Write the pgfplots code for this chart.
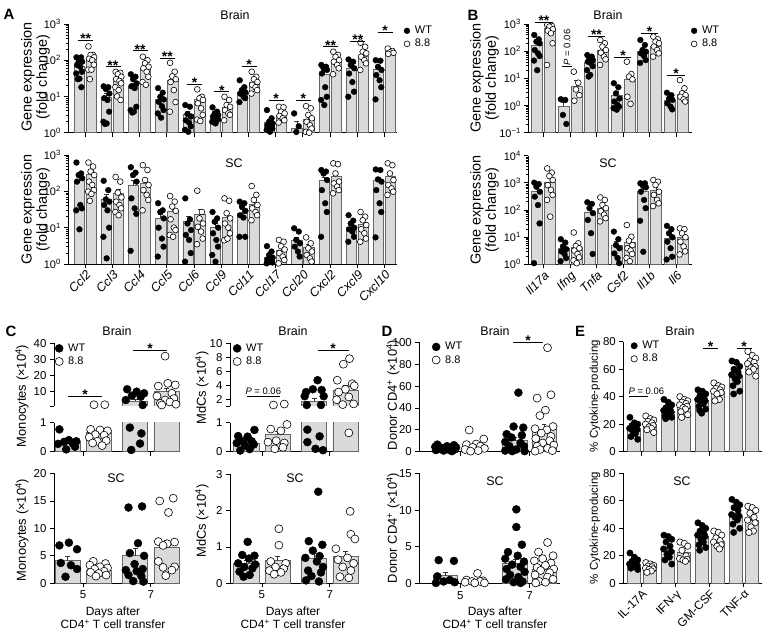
\documentclass[border=0pt]{standalone}
\usepackage{fontspec}
\setmainfont{Liberation Sans}
\usepackage{pgfplots}
\pgfplotsset{compat=1.18}
\definecolor{barf}{HTML}{DADADA}
\definecolor{bard}{HTML}{666666}
\newcommand{\tl}{\fontsize{11.5}{12.5}\selectfont}
\tikzset{sgn/.style={font=\fontsize{14}{14}\selectfont\bfseries, anchor=base, inner sep=0pt, yshift=-3.3bp},
  pv/.style={font=\fontsize{9.5}{10}\selectfont, inner sep=0pt, anchor=base, yshift=2bp},
  ttl/.style={font=\fontsize{12.5}{14}\selectfont},
  yl/.style={rotate=90, align=center, font=\fontsize{#1}{15.5}\selectfont},
  plet/.style={font=\fontsize{15}{15}\selectfont\bfseries}}
\newcommand{\sg}[5]{\draw[line width=.6bp] (axis cs:#1,#4) -- (axis cs:#2,#4); \node[sgn] at (axis cs:#3,#4) {#5};}
\pgfplotsset{
  pan/.style={scale only axis, anchor=south west,
    axis x line*=bottom, axis y line*=left,
    axis line style={line width=.9bp,-},
    tick style={black,line width=.8bp},
    tick align=outside, major tick length=4bp, minor tick length=2.2bp,
    tick label style={font=\tl},
    /pgf/number format/assume math mode=true,
    clip mode=individual,
    legend cell align=left,
    legend style={draw=none, fill=none, anchor=north west, inner sep=0pt,
      font=\fontsize{11}{12}\selectfont, row sep=2bp, nodes={inner sep=1bp},
      /tikz/every odd column/.append style={column sep=4bp}}},
  brw/.style={ybar, bar width=#1, bar shift=0pt, fill=barf, draw=bard, line width=.7bp, forget plot,
    error bars/y dir=plus, error bars/y explicit,
    error bars/error bar style={line width=.7bp, black!80},
    error bars/error mark options={rotate=90, mark size=2.4bp, line width=.7bp, black!80}},
  wt/.style={only marks, mark=*, mark size=#1, mark options={fill=black, draw=black, line width=.4bp}},
  ko/.style={only marks, mark=*, mark size=#1, mark options={fill=white, draw=black, line width=.6bp}},
  abfont/.style={yticklabel style={font=\fontsize{11}{12}\selectfont}},
  rotit/.style={xticklabel style={rotate=45, anchor=north east, inner sep=1bp, font=\fontsize{12.5}{13}\selectfont\itshape}},
}
\begin{document}
\begin{tikzpicture}
\useasboundingbox (0,0) rectangle (764bp,644bp);

% ---------------- A brain
\begin{axis}[pan, abfont, at={(68.3bp,511.3bp)}, width=328.7bp, height=108.7bp,
  ymode=log, log origin y=infty, ymin=1, ymax=1000,
  ytick={1,10,100,1000}, yticklabels={10\textsuperscript{0},10\textsuperscript{1},10\textsuperscript{2},10\textsuperscript{3}},
  minor ytick={2,...,9,20,30,...,90,200,300,...,900},
  xmin=-0.62, xmax=11.46, xtick={0,...,11}, xticklabels={},
  legend style={at={(1.021,0.99)}}]
\addplot[brw=0.38] coordinates {(-0.22,66)+-(0,12) (0.78,9.4)+-(0,2.5) (1.78,19)+-(0,4.5) (2.78,8.3)+-(0,1.5) (3.78,3.2)+-(0,0.6) (4.78,2.8)+-(0,0.35) (5.78,13)+-(0,2.5) (6.78,1.95)+-(0,0.35) (7.78,1.3)+-(0,0.7) (8.78,41)+-(0,10) (9.78,58)+-(0,14) (10.78,57)+-(0,12)};
\addplot[brw=0.38] coordinates {(0.22,105)+-(0,20) (1.22,28)+-(0,4) (2.22,60)+-(0,10) (3.22,28)+-(0,8) (4.22,8.5)+-(0,1.5) (5.22,5)+-(0,0.8) (6.22,24)+-(0,3.5) (7.22,3.1)+-(0,0.4) (8.22,2.4)+-(0,0.5) (9.22,100)+-(0,14) (10.22,130)+-(0,25) (11.22,175)+-(0,12)};
\addplot[wt=2.9bp] table[row sep=\\, x expr=\thisrow{g}-0.22+\thisrow{o}, y=y] {g o y\\
0 -.1 120\\0 .07 120\\0 -.02 91\\0 .11 91\\0 -.08 74\\0 .04 66\\0 .1 48\\0 -.11 43\\0 .01 31\\0 -.05 30\\0 .08 18\\
1 -.1 19\\1 .07 18\\1 -.02 16\\1 .11 12\\1 -.08 9\\1 .04 8\\1 .1 3.8\\1 -.11 2\\1 .01 1.8\\1 -.05 1.75\\
2 -.1 41\\2 .07 35\\2 -.02 30\\2 .11 23\\2 -.08 19\\2 .04 17\\2 .1 5.2\\2 -.11 4.2\\2 .01 3.8\\2 -.05 3.6\\
3 -.1 17\\3 .07 12.7\\3 -.02 9.8\\3 .11 8.3\\3 -.08 7.1\\3 .04 5.4\\3 .1 4.2\\3 -.11 3.4\\3 .01 2.6\\
4 -.1 5.8\\4 .07 5.2\\4 -.02 3.3\\4 .11 2.8\\4 -.08 2.2\\4 .04 1.9\\4 .1 1.5\\4 -.11 1.2\\4 .01 1.06\\
5 -.1 5\\5 .07 3.8\\5 -.02 3.4\\5 .11 3.1\\5 -.08 2.8\\5 .04 2.5\\5 .1 2.3\\5 -.11 2\\5 .01 1.8\\
6 -.1 28\\6 .07 18\\6 -.02 15\\6 .11 13\\6 -.08 12\\6 .04 10\\6 .1 9\\6 -.11 7\\
7 -.1 4.2\\7 .07 2.5\\7 -.02 2\\7 .11 1.8\\7 -.08 1.6\\7 .04 1.45\\7 .1 1.3\\7 -.11 1.2\\7 .01 1.06\\
8 -.1 3.4\\8 .07 1.5\\8 -.02 1.05\\
9 -.1 74\\9 .07 66\\9 -.02 60\\9 .11 54\\9 -.08 43\\9 .04 18\\9 .1 9.8\\9 -.11 8\\9 .01 5.8\\
10 -.1 105\\10 .07 91\\10 -.02 74\\10 .11 60\\10 -.08 43\\10 .04 25\\10 .1 13.5\\10 -.11 9.8\\
11 -.1 100\\11 .07 97\\11 -.02 66\\11 .11 54\\11 -.08 39\\11 .04 28\\11 .1 18\\11 -.11 8.3\\
};
\addplot[ko=2.9bp] table[row sep=\\, x expr=\thisrow{g}+0.22+\thisrow{o}, y=y] {g o y\\
0 -.1 240\\0 .07 140\\0 -.02 140\\0 .11 120\\0 -.08 110\\0 .04 100\\0 .1 75\\0 -.11 55\\0 .01 55\\0 -.05 30\\
1 -.1 48\\1 .07 45\\1 -.02 41\\1 .11 35\\1 -.08 30\\1 .04 27\\1 .1 23\\1 -.11 18\\1 .01 15\\1 -.05 10\\1 .08 8\\
2 -.1 125\\2 .07 100\\2 -.02 82\\2 .11 66\\2 -.08 60\\2 .04 48\\2 .1 35\\2 -.11 25\\2 .01 21\\
3 -.1 85\\3 .07 48\\3 -.02 36\\3 .11 30\\3 -.08 25\\3 .04 15\\3 .1 7\\3 -.11 3.8\\
4 -.1 15.7\\4 .07 9.8\\4 -.02 8.9\\4 .11 8\\4 -.08 6.5\\4 .04 4.7\\4 .1 3.1\\4 -.11 2.3\\4 .01 2.1\\
5 -.1 9.8\\5 .07 8\\5 -.02 5.8\\5 .11 5.2\\5 -.08 4.2\\5 .04 3.4\\5 .1 3.1\\5 -.11 2.2\\
6 -.1 48\\6 .07 35\\6 -.02 30\\6 .11 25\\6 -.08 21\\6 .04 18\\6 .1 15\\6 -.11 12\\
7 -.1 5.2\\7 .07 5\\7 -.02 3.8\\7 .11 3.4\\7 -.08 2.9\\7 .04 2.5\\7 .1 2.2\\7 -.11 1.9\\
8 -.1 5.4\\8 .07 4.7\\8 -.02 3.1\\8 .11 2.5\\8 -.08 2\\8 .04 1.6\\8 .1 1.3\\8 -.11 1.06\\8 .01 1\\
9 -.1 172\\9 .07 140\\9 -.02 125\\9 .11 100\\9 -.08 91\\9 .04 74\\9 .1 60\\9 -.11 41\\
10 -.1 305\\10 .07 235\\10 -.02 172\\10 .11 155\\10 -.08 125\\10 .04 100\\10 .1 82\\10 -.11 54\\
11 -.1 210\\11 .07 180\\11 -.02 165\\11 .11 160\\11 -.08 150\\
};
\legend{WT,8.8}
\sg{-0.25}{0.3}{0.02}{346}{**}
\sg{0.75}{1.3}{1.02}{66}{**}
\sg{1.75}{2.3}{2.02}{183}{**}
\sg{2.75}{3.3}{3.02}{112}{**}
\sg{3.75}{4.3}{4.02}{21.6}{*}
\sg{4.75}{5.3}{5.02}{13.5}{*}
\sg{5.75}{6.3}{6.02}{69}{*}
\sg{6.75}{7.3}{7.02}{8}{*}
\sg{7.75}{8.3}{8.02}{8}{*}
\sg{8.75}{9.3}{9.02}{236}{**}
\sg{9.75}{10.3}{10.02}{325}{**}
\sg{10.75}{11.3}{11.02}{585}{*}
\end{axis}

% ---------------- A SC
\begin{axis}[pan, abfont, rotit, at={(68.3bp,380bp)}, width=328.7bp, height=109bp,
  ymode=log, log origin y=infty, ymin=1, ymax=1000,
  ytick={1,10,100,1000}, yticklabels={10\textsuperscript{0},10\textsuperscript{1},10\textsuperscript{2},10\textsuperscript{3}},
  minor ytick={2,...,9,20,30,...,90,200,300,...,900},
  xmin=-0.62, xmax=11.46, xtick={0,...,11},
  xticklabels={Ccl2,Ccl3,Ccl4,Ccl5,Ccl6,Ccl9,Ccl11,Ccl17,Ccl20,Cxcl2,Cxcl9,Cxcl10}]
\addplot[brw=0.38] coordinates {(-0.22,200)+-(0,60) (0.78,60)+-(0,20) (1.78,150)+-(0,50) (2.78,18)+-(0,5) (3.78,14.6)+-(0,6) (4.78,10)+-(0,3) (5.78,25)+-(0,6) (6.78,1.55)+-(0,.25) (7.78,4.4)+-(0,1) (8.78,195)+-(0,50) (9.78,10.3)+-(0,2) (10.78,195)+-(0,50)};
\addplot[brw=0.38] coordinates {(0.22,300)+-(0,80) (1.22,90)+-(0,25) (2.22,170)+-(0,55) (3.22,28)+-(0,7) (4.22,23)+-(0,8) (5.22,19)+-(0,6) (6.22,45)+-(0,10) (7.22,2.45)+-(0,.4) (8.22,2.8)+-(0,.6) (9.22,265)+-(0,60) (10.22,12.6)+-(0,3) (11.22,265)+-(0,60)};
\addplot[wt=2.9bp] table[row sep=\\, x expr=\thisrow{g}-0.22+\thisrow{o}, y=y] {g o y\\
0 -.1 620\\0 .07 310\\0 -.02 280\\0 .11 230\\0 -.08 185\\0 .04 42\\0 .1 34\\0 -.11 30\\0 .01 9\\
1 -.1 195\\1 .07 108\\1 -.02 60\\1 .11 52\\1 -.08 42\\1 .04 30\\1 .1 10\\1 -.11 5.6\\1 .01 1.43\\
2 -.1 460\\2 .07 325\\2 -.02 280\\2 .11 185\\2 -.08 64\\2 .04 34\\2 .1 24\\2 -.11 2.3\\
3 -.1 47\\3 .07 30\\3 -.02 27\\3 .11 18\\3 -.08 10\\3 .04 5\\3 .1 3\\3 -.11 1.6\\
4 -.1 64\\4 .07 17\\4 -.02 13\\4 .11 8.6\\4 -.08 6.3\\4 .04 4.6\\4 .1 2\\4 -.11 1.16\\
5 -.1 27\\5 .07 18\\5 -.02 14.6\\5 .11 10\\5 -.08 7\\5 .04 4.6\\5 .1 3\\5 -.11 1.77\\5 .01 1.16\\
6 -.1 52\\6 .07 47\\6 -.02 38\\6 .11 29\\6 -.08 22\\6 .04 19\\6 .1 5.6\\6 -.11 5.6\\
7 -.1 3.1\\7 .07 2.2\\7 -.02 1.77\\7 .11 1.5\\7 -.08 1.34\\7 .04 1.23\\7 .1 1.1\\7 -.11 1.04\\
8 -.1 9.6\\8 .07 7.8\\8 -.02 4.6\\8 .11 3.7\\8 -.08 3\\8 .04 2.2\\8 .1 1.6\\
9 -.1 385\\9 .07 350\\9 -.02 310\\9 .11 205\\9 -.08 108\\9 .04 47\\9 .1 27\\9 -.11 5.6\\
10 -.1 22\\10 .07 15.6\\10 -.02 13\\10 .11 10\\10 -.08 9\\10 .04 7.8\\10 .1 5.6\\10 -.11 4.1\\
11 -.1 400\\11 .07 385\\11 -.02 213\\11 .11 185\\11 -.08 108\\11 .04 47\\11 .1 27\\11 -.11 5.4\\
};
\addplot[ko=2.9bp] table[row sep=\\, x expr=\thisrow{g}+0.22+\thisrow{o}, y=y] {g o y\\
0 -.1 620\\0 .07 480\\0 -.02 350\\0 .11 280\\0 -.08 185\\0 .04 150\\0 .1 108\\0 -.11 98\\0 .01 85\\0 -.05 55\\
1 -.1 250\\1 .07 185\\1 -.02 92\\1 .11 68\\1 -.08 52\\1 .04 42\\1 .1 34\\1 -.11 27\\1 .01 22\\
2 -.1 525\\2 .07 385\\2 -.02 205\\2 .11 150\\2 -.08 108\\2 .04 80\\2 .1 58\\2 -.11 30\\
3 -.1 74\\3 .07 52\\3 -.02 38\\3 .11 29\\3 -.08 17\\3 .04 10\\3 .1 8.6\\3 -.11 6.3\\3 .01 5.6\\
4 -.1 104\\4 .07 27\\4 -.02 18\\4 .11 13\\4 -.08 10.6\\4 .04 7.8\\4 .1 5\\4 -.11 3.5\\
5 -.1 64\\5 .07 55\\5 -.02 25\\5 .11 18\\5 -.08 13\\5 .04 10\\5 .1 7\\5 -.11 4.5\\5 .01 5\\
6 -.1 140\\6 .07 80\\6 -.02 58\\6 .11 42\\6 -.08 34\\6 .04 27\\6 .1 22\\6 -.11 16\\
7 -.1 4.6\\7 .07 4.1\\7 -.02 3.1\\7 .11 2.5\\7 -.08 2\\7 .04 1.6\\7 .1 1.29\\7 -.11 1.04\\
8 -.1 5.4\\8 .07 3.7\\8 -.02 2.7\\8 .11 2.2\\8 -.08 1.77\\8 .04 1.43\\8 .1 1.16\\
9 -.1 590\\9 .07 560\\9 -.02 310\\9 .11 185\\9 -.08 165\\9 .04 135\\9 .1 108\\9 -.11 88\\
10 -.1 27\\10 .07 20\\10 -.02 16\\10 .11 11.8\\10 -.08 9\\10 .04 7\\10 .1 5\\10 -.11 4.1\\
11 -.1 590\\11 .07 525\\11 -.02 310\\11 .11 205\\11 -.08 150\\11 .04 120\\11 .1 98\\11 -.11 80\\
};
\end{axis}

% ---------------- B brain
\begin{axis}[pan, abfont, at={(528.3bp,511.3bp)}, width=163.4bp, height=108.7bp,
  ymode=log, log origin y=infty, ymin=0.1, ymax=1000,
  ytick={0.1,1,10,100,1000}, yticklabels={10\textsuperscript{−1},10\textsuperscript{0},10\textsuperscript{1},10\textsuperscript{2},10\textsuperscript{3}},
  minor ytick={0.2,0.3,0.4,0.5,0.6,0.7,0.8,0.9,2,...,9,20,30,...,90,200,300,...,900},
  xmin=-0.57, xmax=5.59, xtick={0,...,5}, xticklabels={},
  legend style={at={(0.996,0.99)}}]
\addplot[brw=0.42] coordinates {(-0.245,169)+-(0,40) (0.755,0.95)+-(0,0.4) (1.755,40)+-(0,8) (2.755,2.4)+-(0,0.8) (3.755,96)+-(0,20) (4.755,1.5)+-(0,0.3)};
\addplot[brw=0.42] coordinates {(0.245,690)+-(0,150) (1.245,5.2)+-(0,3) (2.245,105)+-(0,25) (3.245,9.4)+-(0,5) (4.245,147)+-(0,30) (5.245,2.5)+-(0,0.8)};
\addplot[wt=2.9bp] table[row sep=\\, x expr=\thisrow{g}-0.245+\thisrow{o}, y=y] {g o y\\
0 -.1 394\\0 .07 272\\0 -.02 224\\0 .11 195\\0 -.08 110\\0 .04 83\\0 .1 66\\0 -.11 45\\0 .01 20\\
1 -.1 1.7\\1 .07 1.6\\1 -.02 .45\\1 .11 .21\\
2 -.1 72\\2 .07 63\\2 -.02 55\\2 .11 47\\2 -.08 41\\2 .04 36\\2 .1 28\\2 -.11 20\\2 .01 13.3\\2 -.05 11.6\\
3 -.1 6.6\\3 .07 4.7\\3 -.02 2.8\\3 .11 1.8\\3 -.08 1.4\\3 .04 1.05\\3 .1 .91\\3 -.11 .8\\3 .01 .7\\
4 -.1 258\\4 .07 169\\4 -.02 110\\4 .11 96\\4 -.08 83\\4 .04 66\\4 .1 47\\4 -.11 37\\
5 -.1 2.95\\5 .07 2.4\\5 -.02 1.8\\5 .11 1.6\\5 -.08 1.2\\5 .04 .91\\5 .1 .72\\
};
\addplot[ko=2.9bp] table[row sep=\\, x expr=\thisrow{g}+0.245+\thisrow{o}, y=y] {g o y\\
0 -.1 920\\0 .07 850\\0 -.02 800\\0 .11 636\\0 -.08 570\\0 .04 455\\0 .1 195\\0 -.11 31\\
1 -.1 17.6\\1 .07 6.9\\1 -.02 3.9\\1 .11 2.4\\1 -.08 1.5\\
2 -.1 258\\2 .07 195\\2 -.02 147\\2 .11 110\\2 -.08 88\\2 .04 63\\2 .1 50\\2 -.11 31\\
3 -.1 41\\3 .07 14.4\\3 -.02 11.6\\3 .11 9.2\\3 -.08 2.1\\3 .04 1.15\\
4 -.1 344\\4 .07 272\\4 -.02 224\\4 .11 195\\4 -.08 147\\4 .04 110\\4 .1 83\\4 -.11 63\\
5 -.1 8.6\\5 .07 4.3\\5 -.02 2.8\\5 .11 2.4\\5 -.08 2.1\\5 .04 1.7\\5 .1 1.4\\
};
\legend{WT,8.8}
\sg{-0.31}{0.36}{0.02}{1120}{**}
\draw[line width=.6bp] (axis cs:0.69,27) -- (axis cs:1.07,27);
\node[rotate=90, font=\fontsize{9.5}{10}\selectfont, inner sep=0pt] at (axis cs:0.89,137) {\textit{P} = 0.06};
\sg{1.67}{2.32}{2.0}{341}{**}
\sg{2.67}{3.32}{3.0}{59}{*}
\sg{3.67}{4.32}{4.0}{454}{*}
\sg{4.67}{5.32}{5.0}{13}{*}
\end{axis}

% ---------------- B SC
\begin{axis}[pan, abfont, rotit, at={(528.3bp,379.7bp)}, width=163.4bp, height=108.6bp,
  ymode=log, log origin y=infty, ymin=1, ymax=10000,
  ytick={1,10,100,1000,10000}, yticklabels={10\textsuperscript{0},10\textsuperscript{1},10\textsuperscript{2},10\textsuperscript{3},10\textsuperscript{4}},
  minor ytick={2,...,9,20,30,...,90,200,300,...,900,2000,3000,...,9000},
  xmin=-0.57, xmax=5.59, xtick={0,...,5},
  xticklabels={Il17a,Ifng,Tnfa,Csf2,Il1b,Il6}]
\addplot[brw=0.42] coordinates {(-0.245,500)+-(0,150) (0.755,3.9)+-(0,0.8) (1.755,85)+-(0,25) (2.755,5.1)+-(0,2) (3.755,500)+-(0,120) (4.755,9.1)+-(0,3)};
\addplot[brw=0.42] coordinates {(0.245,1014)+-(0,400) (1.245,4.3)+-(0,1.5) (2.245,117)+-(0,30) (3.245,6.3)+-(0,2.5) (4.245,550)+-(0,130) (5.245,9.9)+-(0,2.5)};
\addplot[wt=2.9bp] table[row sep=\\, x expr=\thisrow{g}-0.245+\thisrow{o}, y=y] {g o y\\
0 -.1 1014\\0 .07 900\\0 -.02 720\\0 .11 470\\0 -.08 310\\0 .04 152\\0 .1 32\\0 -.11 1.1\\
1 -.1 8.4\\1 .07 6.3\\1 -.02 4.5\\1 .11 3.6\\1 -.08 3\\1 .04 2.4\\1 .1 1.7\\1 -.11 1.3\\
2 -.1 193\\2 .07 168\\2 -.02 117\\2 .11 77\\2 -.08 43\\2 .04 14\\2 .1 2.4\\
3 -.1 16\\3 .07 8.4\\3 -.02 5.1\\3 .11 3.9\\3 -.08 2.5\\3 .04 1.7\\3 .1 1.1\\
4 -.1 960\\4 .07 960\\4 -.02 830\\4 .11 680\\4 -.08 470\\4 .04 235\\4 .1 117\\4 -.11 40\\4 .01 2.9\\
5 -.1 26\\5 .07 19.6\\5 -.02 13.9\\5 .11 9.9\\5 -.08 6.8\\5 .04 3.9\\5 .1 1.9\\5 -.11 1.5\\
};
\addplot[ko=2.9bp] table[row sep=\\, x expr=\thisrow{g}+0.245+\thisrow{o}, y=y] {g o y\\
0 -.1 3400\\0 .07 2370\\0 -.02 1780\\0 .11 1270\\0 -.08 830\\0 .04 550\\0 .1 360\\0 -.11 235\\0 .01 57\\
1 -.1 14.8\\1 .07 5.9\\1 -.02 4.7\\1 .11 3.9\\1 -.08 3.2\\1 .04 2.4\\1 .1 1.8\\1 -.11 1.4\\1 .01 1.1\\
2 -.1 290\\2 .07 235\\2 -.02 152\\2 .11 117\\2 -.08 89\\2 .04 67\\2 .1 50\\2 -.11 38\\
3 -.1 28\\3 .07 10.3\\3 -.02 7.4\\3 .11 5.1\\3 -.08 3.9\\3 .04 3.2\\3 .1 2.4\\3 -.11 1.7\\3 .01 1.3\\
4 -.1 1270\\4 .07 1100\\4 -.02 830\\4 .11 470\\4 -.08 360\\4 .04 235\\4 .1 176\\4 -.11 140\\
5 -.1 21\\5 .07 19.6\\5 -.02 13.9\\5 .11 9.9\\5 -.08 6.8\\5 .04 4.5\\5 .1 3\\5 -.11 2.3\\
};
\end{axis}

% ---------------- C monocytes brain, upper part
\begin{axis}[pan, at={(54bp,238bp)}, width=126bp, height=62.7bp, axis x line=none,
  xmin=-0.43, xmax=1.43, ymin=1, ymax=40, ytick={1,10,20,30,40}, yticklabels={,10,20,30,40},
  legend style={at={(0.008,1.01)}}]
\addplot[brw=0.37] coordinates {(0.77,4.2)+-(0,1.0) (1.23,10)+-(0,2)};
\addplot[wt=4bp] table[row sep=\\, x expr=\thisrow{g}-0.23+\thisrow{o}, y=y] {g o y\\
1 -.12 11.4\\1 .02 9.9\\1 .13 8.9\\1 -.05 7.4\\1 .08 6.8\\1 -.14 4.7\\1 .11 1.6\\
};
\addplot[ko=4bp] table[row sep=\\, x expr=\thisrow{g}+0.23+\thisrow{o}, y=y] {g o y\\
0 -.07 1.8\\0 .09 1.8\\1 -.02 32\\1 .02 15.1\\1 .13 14.1\\1 -.12 13.4\\1 .08 8.9\\1 -.14 7.2\\1 .11 5.6\\1 -.02 4.7\\1 .05 3.5\\1 -.09 2.7\\1 .14 2.1\\1 -.07 1.6\\
};
\legend{WT,8.8}
\sg{-0.22}{0.28}{0.03}{7.2}{*}
\sg{0.74}{1.24}{0.99}{35.8}{*}
\end{axis}
% lower part
\begin{axis}[pan, at={(54bp,192.3bp)}, width=126bp, height=29bp,
  xmin=-0.43, xmax=1.43, xtick={0,1}, xticklabels={}, ymin=0, ymax=1, ytick={0,1}]
\addplot[brw=0.37] coordinates {(-0.23,0.31)+-(0,0.07) (0.23,0.65)+-(0,0.07) (0.77,4.2)+-(0,0) (1.23,10)+-(0,0)};
\addplot[wt=4bp] table[row sep=\\, x expr=\thisrow{g}-0.23+\thisrow{o}, y=y] {g o y\\
0 -.12 .77\\0 .02 .4\\0 .13 .36\\0 -.05 .34\\0 .08 .28\\0 -.14 .27\\0 .11 .17\\0 -.02 .08\\1 -.08 .83\\1 .09 .63\\1 .07 .28\\1 -.06 .06\\
};
\addplot[ko=4bp] table[row sep=\\, x expr=\thisrow{g}+0.23+\thisrow{o}, y=y] {g o y\\
0 -.12 .77\\0 .02 .75\\0 .13 .72\\0 -.05 .59\\0 .08 .57\\0 -.14 .5\\0 .11 .38\\0 -.02 .36\\0 .05 .21\\0 -.09 .3\\
};
\end{axis}

% ---------------- C MdCs brain, upper part
\begin{axis}[pan, at={(230bp,238bp)}, width=129bp, height=62.7bp, axis x line=none,
  xmin=-0.47, xmax=1.43, ymin=1, ymax=10, ytick={1,2,4,6,8,10}, yticklabels={,2,4,6,8,10},
  legend style={at={(0.023,1.01)}}]
\addplot[brw=0.37] coordinates {(0.77,1.7)+-(0,0.4) (1.23,3.3)+-(0,0.6)};
\addplot[wt=4bp] table[row sep=\\, x expr=\thisrow{g}-0.23+\thisrow{o}, y=y] {g o y\\
1 .05 4.7\\1 -.02 3.4\\1 .11 3.3\\1 -.12 3\\1 -.14 2.4\\1 .14 2.4\\1 -.11 1.14\\1 .1 1.14\\
};
\addplot[ko=4bp] table[row sep=\\, x expr=\thisrow{g}+0.23+\thisrow{o}, y=y] {g o y\\
0 -.06 1.14\\0 .1 1.28\\1 .06 7.8\\1 -.03 7\\1 -.12 4.7\\1 .1 4.2\\1 .13 3.9\\1 0 3.4\\1 -.1 3\\1 .05 2.3\\1 -.13 1.9\\1 .12 1.3\\1 -.04 1.2\\
};
\legend{WT,8.8}
\draw[line width=.6bp] (axis cs:-0.22,2.43) -- (axis cs:0.26,2.43);
\node[pv] at (axis cs:0.02,2.43) {\textit{P} = 0.06};
\sg{0.82}{1.29}{1.05}{9.03}{*}
\end{axis}
% lower part
\begin{axis}[pan, at={(230bp,192.3bp)}, width=129bp, height=29bp,
  xmin=-0.47, xmax=1.43, xtick={0,1}, xticklabels={}, ymin=0, ymax=1, ytick={0,1}]
\addplot[brw=0.37] coordinates {(-0.23,0.3)+-(0,0.06) (0.23,0.6)+-(0,0.1) (0.77,1.7)+-(0,0) (1.23,3.3)+-(0,0)};
\addplot[wt=4bp] table[row sep=\\, x expr=\thisrow{g}-0.23+\thisrow{o}, y=y] {g o y\\
0 .12 .75\\0 -.12 .54\\0 .02 .52\\0 -.05 .36\\0 .08 .36\\0 -.14 .3\\0 .11 .25\\0 -.02 .21\\0 .05 .09\\0 -.09 .04\\1 -.1 .76\\1 .08 .53\\1 -.1 .33\\1 .02 .1\\1 .13 .05\\
};
\addplot[ko=4bp] table[row sep=\\, x expr=\thisrow{g}+0.23+\thisrow{o}, y=y] {g o y\\
0 .14 .94\\0 -.1 .78\\0 .05 .72\\0 -.02 .38\\0 -.14 .33\\0 .1 .3\\0 .08 .15\\0 -.04 .1\\1 .05 .65\\
};
\end{axis}

% ---------------- C monocytes SC
\begin{axis}[pan, at={(54bp,60.7bp)}, width=126bp, height=109.8bp,
  xmin=-0.43, xmax=1.43, xtick={0,1}, xticklabels={5,7}, ymin=0, ymax=20, ytick={0,5,...,20}]
\addplot[brw=0.37] coordinates {(-0.23,4.1)+-(0,0.8) (0.23,2.4)+-(0,0.3) (0.77,5.0)+-(0,1.4) (1.23,6.5)+-(0,1.3)};
\addplot[wt=4bp] table[row sep=\\, x expr=\thisrow{g}-0.23+\thisrow{o}, y=y] {g o y\\
0 .02 7.4\\0 -.12 6.9\\0 .14 6.2\\0 -.1 3.7\\0 .05 3.3\\0 .14 2.6\\0 -.03 1.2\\1 -.1 13.8\\1 .1 14\\1 .04 7.3\\1 -.08 5.5\\1 .13 5\\1 -.01 3.5\\1 .11 2.6\\1 -.14 2.4\\1 .02 2.2\\1 -.1 1.5\\1 .09 1.3\\1 -.03 .4\\1 .12 .3\\
};
\addplot[ko=4bp] table[row sep=\\, x expr=\thisrow{g}+0.23+\thisrow{o}, y=y] {g o y\\
0 -.08 4\\0 .1 3.6\\0 -.13 3.3\\0 .02 3\\0 .13 2.8\\0 -.06 2.6\\0 .08 2.2\\0 -.12 2\\0 0 1.8\\0 .11 1.5\\0 -.04 1.3\\1 -.1 15\\1 .1 15.5\\1 .03 12.9\\1 -.12 7.6\\1 .12 7.5\\1 .01 7.2\\1 -.05 6.9\\1 -.12 4\\1 .12 3\\1 -.05 2.9\\1 .08 2.4\\1 -.01 1.4\\
};
\end{axis}

% ---------------- C MdCs SC
\begin{axis}[pan, at={(230bp,60.7bp)}, width=129bp, height=109bp,
  xmin=-0.47, xmax=1.43, xtick={0,1}, xticklabels={5,7}, ymin=0, ymax=3, ytick={0,1,2,3}]
\addplot[brw=0.37] coordinates {(-0.23,0.55)+-(0,0.08) (0.23,0.62)+-(0,0.13) (0.77,0.7)+-(0,0.2) (1.23,0.75)+-(0,0.13)};
\addplot[wt=4bp] table[row sep=\\, x expr=\thisrow{g}-0.23+\thisrow{o}, y=y] {g o y\\
0 .02 1.14\\0 -.06 .78\\0 .12 .76\\0 .04 .68\\0 -.12 .55\\0 .13 .52\\0 -.03 .45\\0 .09 .41\\0 -.1 .32\\0 .05 .23\\0 -.04 .18\\1 .06 2.52\\1 -.08 1.16\\1 .12 1.06\\1 -.02 .9\\1 .08 .75\\1 -.13 .7\\1 .04 .6\\1 .13 .45\\1 -.09 .35\\1 .1 .3\\1 -.04 .2\\1 -.12 .08\\1 .07 .05\\
};
\addplot[ko=4bp] table[row sep=\\, x expr=\thisrow{g}+0.23+\thisrow{o}, y=y] {g o y\\
0 .02 1.5\\0 .02 1.05\\0 -.1 .6\\0 .12 .55\\0 -.03 .45\\0 .09 .4\\0 -.12 .35\\0 .05 .3\\0 -.05 .25\\1 .07 1.98\\1 .08 1.35\\1 .14 1.22\\1 -.14 .95\\1 .03 .7\\1 -.11 .65\\1 .12 .55\\1 -.04 .45\\1 .08 .35\\1 -.08 .18\\1 .05 .15\\
};
\end{axis}

% ---------------- D brain
\begin{axis}[pan, at={(419.3bp,192.3bp)}, width=140.7bp, height=109.4bp,
  xmin=-0.59, xmax=1.44, xtick={0,1}, xticklabels={}, ymin=0, ymax=100, ytick={0,20,...,100},
  legend style={at={(0.09,1.01)}}]
\addplot[brw=0.35] coordinates {(-0.21,2.4)+-(0,0.6) (0.21,5.2)+-(0,2) (0.79,10)+-(0,3.5) (1.21,20)+-(0,5)};
\addplot[wt=4bp] table[row sep=\\, x expr=\thisrow{g}-0.21+\thisrow{o}, y=y] {g o y\\
0 -.12 6.5\\0 .12 6\\0 .02 5\\0 -.15 4.5\\0 .15 4\\0 -.06 3.5\\0 .08 3\\0 -.1 2.5\\0 .04 2\\0 .13 2\\0 -.14 1.5\\0 -.03 1\\0 .09 .5\\1 .05 54\\1 -.02 23\\1 .12 22\\1 -.12 16\\1 .1 15\\1 -.05 13\\1 -.14 9\\1 .08 8\\1 -.08 5\\1 .13 5\\1 .02 2\\1 -.14 1\\1 -.04 .5\\1 .14 .5\\
};
\addplot[ko=4bp] table[row sep=\\, x expr=\thisrow{g}+0.21+\thisrow{o}, y=y] {g o y\\
0 -.08 19.8\\0 .13 11.6\\0 .02 7\\0 -.12 6.5\\0 .08 5\\0 -.03 4\\0 .14 3\\0 -.14 2\\0 .05 1\\0 -.06 .5\\1 .05 95\\1 .1 52\\1 -.1 49\\1 .02 38\\1 -.06 33\\1 .13 23\\1 -.13 21\\1 .04 20\\1 -.04 17\\1 .1 14\\1 -.12 12\\1 .08 10\\1 -.02 8\\1 .14 6\\1 -.1 5\\1 .05 3\\1 -.06 2\\1 .12 1\\1 -.13 .5\\
};
\legend{WT,8.8}
\sg{0.76}{1.2}{0.98}{100.4}{*}
\end{axis}

% ---------------- D SC
\begin{axis}[pan, at={(419.3bp,60.3bp)}, width=140.7bp, height=110.4bp,
  xmin=-0.59, xmax=1.44, xtick={0,1}, xticklabels={5,7}, ymin=0, ymax=15, ytick={0,5,10,15}]
\addplot[brw=0.35] coordinates {(-0.21,1.1)+-(0,0.45) (0.21,0.3)+-(0,0.15) (0.79,2.7)+-(0,0.6) (1.21,2.0)+-(0,0.4)};
\addplot[wt=4bp] table[row sep=\\, x expr=\thisrow{g}-0.21+\thisrow{o}, y=y] {g o y\\
0 -.1 3.2\\0 .12 3.1\\0 -.12 1\\0 .06 .5\\0 -.03 .3\\0 .13 .2\\0 -.14 .1\\1 .02 10.1\\1 .02 7.7\\1 .1 5.3\\1 -.1 4.3\\1 .04 3.8\\1 -.14 3.4\\1 .13 3\\1 -.04 2.6\\1 .08 2.3\\1 -.12 2\\1 .14 1.6\\1 -.07 1.2\\1 .05 .9\\1 -.13 .6\\1 .11 .3\\1 -.02 .2\\1 .08 .1\\
};
\addplot[ko=4bp] table[row sep=\\, x expr=\thisrow{g}+0.21+\thisrow{o}, y=y] {g o y\\
0 .04 1.4\\0 -.12 .5\\0 .12 .4\\0 -.04 .3\\0 .08 .3\\0 -.14 .2\\0 .14 .1\\0 0 .1\\1 .05 5.6\\1 -.08 4.3\\1 .13 3.8\\1 -.02 3.4\\1 -.14 3.1\\1 .1 2.8\\1 .02 2.5\\1 -.1 2.2\\1 .14 2\\1 -.05 1.8\\1 .08 1.5\\1 -.13 1.2\\1 .05 .9\\1 .13 .6\\1 -.07 .3\\1 .02 .2\\1 -.12 .1\\
};
\end{axis}

% ---------------- E brain
\begin{axis}[pan, at={(623.3bp,192.3bp)}, width=138.4bp, height=110bp,
  xmin=-0.54, xmax=3.53, xtick={0,...,3}, xticklabels={}, ymin=0, ymax=80, ytick={0,20,...,80},
  legend style={at={(0.054,1.015)}}]
\addplot[brw=0.38] coordinates {(-0.235,17)+-(0,1.4) (0.765,29.6)+-(0,1.2) (1.765,37.6)+-(0,1.5) (2.765,55.3)+-(0,2.2)};
\addplot[brw=0.38] coordinates {(0.235,20)+-(0,1.1) (1.235,33)+-(0,1.4) (2.235,43.6)+-(0,1.5) (3.235,63)+-(0,1.7)};
\addplot[wt=3.2bp] table[row sep=\\, x expr=\thisrow{g}-0.235+\thisrow{o}, y=y] {g o y\\
0 -.11 25\\0 .02 21\\0 .12 20\\0 -.05 19\\0 .07 18\\0 -.12 17\\0 .1 16\\0 -.02 15\\0 .05 13\\0 -.08 11\\0 .12 9\\
1 -.11 38\\1 .02 36\\1 .12 34\\1 -.05 32\\1 .07 31\\1 -.12 30\\1 .1 29\\1 -.02 28\\1 .05 27\\1 -.08 26\\1 .12 25\\1 -.06 24\\
2 -.11 45\\2 .02 44\\2 .12 42\\2 -.05 41\\2 .07 39\\2 -.12 38\\2 .1 37\\2 -.02 36\\2 .05 35\\2 -.08 33\\2 .12 31\\2 -.06 30\\2 0 28\\
3 -.11 66\\3 .02 65\\3 .12 62\\3 -.05 60\\3 .07 58\\3 -.12 56\\3 .1 55\\3 -.02 53\\3 .05 51\\3 -.08 48\\3 .12 44\\3 -.06 42\\
};
\addplot[ko=3.2bp] table[row sep=\\, x expr=\thisrow{g}+0.235+\thisrow{o}, y=y] {g o y\\
0 -.11 26\\0 .02 24\\0 .12 23\\0 -.05 22\\0 .07 21\\0 -.12 20\\0 .1 19\\0 -.02 18\\0 .05 17\\0 -.08 16\\0 .12 14\\
1 -.11 40\\1 .02 38\\1 .12 37\\1 -.05 36\\1 .07 35\\1 -.12 34\\1 .1 33\\1 -.02 32\\1 .05 31\\1 -.08 29\\1 .12 27\\1 -.06 25\\
2 -.11 50\\2 .02 48\\2 .12 47\\2 -.05 46\\2 .07 45\\2 -.12 44\\2 .1 43\\2 -.02 42\\2 .05 38\\2 -.08 37\\
3 -.11 73\\3 .02 70\\3 .12 68\\3 -.05 66\\3 .07 65\\3 -.12 64\\3 .1 62\\3 -.02 61\\3 .05 60\\3 -.08 58\\3 .12 55\\
};
\legend{WT,8.8}
\draw[line width=.6bp] (axis cs:-0.37,40.5) -- (axis cs:0.2,40.5);
\node[pv, anchor=base west] at (axis cs:-0.39,40.5) {\textit{P} = 0.06};
\sg{1.81}{2.25}{2.03}{75}{*}
\sg{2.79}{3.24}{3.01}{75}{*}
\end{axis}

% ---------------- E SC
\begin{axis}[pan, at={(623.3bp,60.7bp)}, width=138.4bp, height=110bp,
  xmin=-0.54, xmax=3.53, xtick={0,...,3}, xticklabels={IL-17A,IFN-γ,GM-CSF,TNF-α},
  xticklabel style={rotate=45, anchor=north east, inner sep=1bp, font=\fontsize{12}{13}\selectfont},
  ymin=0, ymax=80, ytick={0,20,...,80}]
\addplot[brw=0.38] coordinates {(-0.235,13.8)+-(0,1) (0.765,24.2)+-(0,2) (1.765,34)+-(0,1.8) (2.765,49)+-(0,2)};
\addplot[brw=0.38] coordinates {(0.235,11.4)+-(0,0.7) (1.235,22.3)+-(0,2) (2.235,30.8)+-(0,1.6) (3.235,46)+-(0,2.3)};
\addplot[wt=3.2bp] table[row sep=\\, x expr=\thisrow{g}-0.235+\thisrow{o}, y=y] {g o y\\
0 -.11 22\\0 .02 19\\0 .12 17\\0 -.05 16\\0 .07 15\\0 -.12 14\\0 .1 13\\0 -.02 12.5\\0 .05 12\\0 -.08 11\\0 .12 10\\
1 -.11 35\\1 .02 34\\1 .12 32\\1 -.05 30\\1 .07 27\\1 -.12 25\\1 .1 23\\1 -.02 21\\1 .05 19\\1 -.08 17\\1 .12 14\\
2 -.11 44\\2 .02 42\\2 .12 40\\2 -.05 38\\2 .07 36\\2 -.12 35\\2 .1 34\\2 -.02 32\\2 .05 30\\2 -.08 28\\2 .12 26\\2 -.06 24\\
3 -.11 61\\3 .02 59\\3 .12 57\\3 -.05 55\\3 .07 53\\3 -.12 50\\3 .1 49\\3 -.02 48\\3 .05 46\\3 -.08 43\\3 .12 40\\3 -.06 37\\
};
\addplot[ko=3.2bp] table[row sep=\\, x expr=\thisrow{g}+0.235+\thisrow{o}, y=y] {g o y\\
0 -.11 15\\0 .02 14\\0 .12 13\\0 -.05 12.5\\0 .07 12\\0 -.12 11\\0 .1 10.5\\0 -.02 10\\0 .05 9\\0 -.08 8\\
1 -.11 30\\1 .02 29\\1 .12 27\\1 -.05 24\\1 .07 20\\1 -.12 18\\1 .1 17.5\\1 -.02 17\\1 .05 16\\
2 -.11 38\\2 .02 37\\2 .12 35\\2 -.05 33\\2 .07 31\\2 -.12 30\\2 .1 28\\2 -.02 27\\2 .05 25\\
3 -.11 56\\3 .02 55\\3 .12 53\\3 -.05 51\\3 .07 48\\3 -.12 46\\3 .1 44\\3 -.02 41\\3 .05 38\\3 -.08 37\\
};
\end{axis}

% ---------------- texts
\node[plet] at (9bp,630bp) {A};
\node[plet] at (473bp,629bp) {B};
\node[plet] at (11bp,313bp) {C};
\node[plet] at (387bp,313bp) {D};
\node[plet] at (580bp,313bp) {E};
\node[ttl] at (235bp,629bp) {Brain};
\node[ttl] at (234bp,481bp) {SC};
\node[ttl] at (608bp,629bp) {Brain};
\node[ttl] at (608bp,481bp) {SC};
\node[ttl] at (117bp,313bp) {Brain};
\node[ttl] at (293bp,313bp) {Brain};
\node[ttl] at (116bp,166bp) {SC};
\node[ttl] at (295bp,166bp) {SC};
\node[ttl] at (495bp,313bp) {Brain};
\node[ttl] at (495bp,163bp) {SC};
\node[ttl] at (680bp,313bp) {Brain};
\node[ttl] at (682bp,163bp) {SC};
\node[yl=14.5] at (35.5bp,567bp) {Gene expression\\(fold change)};
\node[yl=14.5] at (35.5bp,434.5bp) {Gene expression\\(fold change)};
\node[yl=14.5] at (484.5bp,566bp) {Gene expression\\(fold change)};
\node[yl=14.5] at (484.5bp,434bp) {Gene expression\\(fold change)};
\node[yl=13] at (22bp,248bp) {Monocytes (×10\textsuperscript{4})};
\node[yl=13] at (22bp,114bp) {Monocytes (×10\textsuperscript{4})};
\node[yl=13] at (202bp,256bp) {MdCs (×10\textsuperscript{4})};
\node[yl=13] at (202bp,123bp) {MdCs (×10\textsuperscript{4})};
\node[yl=13] at (393bp,249bp) {Donor CD4\textsuperscript{+} (×10\textsuperscript{4})};
\node[yl=13] at (393bp,116bp) {Donor CD4\textsuperscript{+} (×10\textsuperscript{4})};
\node[yl=11.5] at (595bp,248bp) {\% Cytokine-producing};
\node[yl=11.5] at (595bp,116bp) {\% Cytokine-producing};
\node[ttl, font=\fontsize{12}{13.5}\selectfont, align=center] at (113bp,26.5bp) {Days after\\CD4\textsuperscript{+} T cell transfer};
\node[ttl, font=\fontsize{12}{13.5}\selectfont, align=center] at (293bp,26.5bp) {Days after\\CD4\textsuperscript{+} T cell transfer};
\node[ttl, font=\fontsize{12}{13.5}\selectfont, align=center] at (495bp,26.5bp) {Days after\\CD4\textsuperscript{+} T cell transfer};
\end{tikzpicture}
\end{document}
